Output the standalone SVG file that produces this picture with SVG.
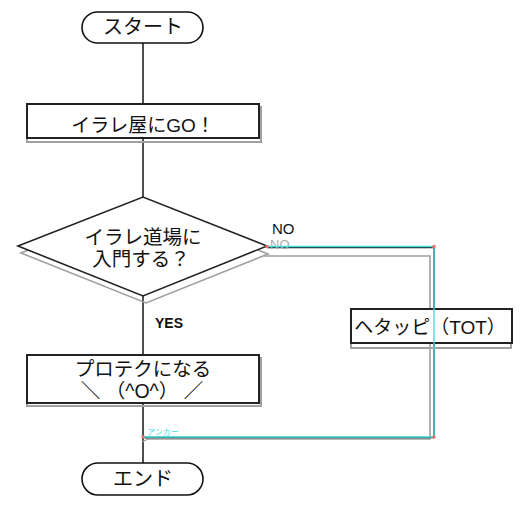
<svg xmlns="http://www.w3.org/2000/svg" width="525" height="510" viewBox="0 0 525 510">
<style>
.t{font-family:"Liberation Sans","Noto Sans CJK JP",sans-serif;font-size:20px;fill:#111;text-anchor:middle}
.lt{font-family:"Liberation Sans","Noto Sans CJK JP",sans-serif}
.box{fill:#fff;stroke:#222;stroke-width:2}
.sh{fill:none;stroke:#a0a0a0;stroke-width:2}
.term{fill:#fff;stroke:#111;stroke-width:1.6}
.ln{fill:none;stroke:#222;stroke-width:1.6}
.cy{fill:none;stroke:#3ee0e0;stroke-width:1.4}
.pt{fill:#f07070}
</style>
<defs>
<marker id="ah" markerWidth="8" markerHeight="8" refX="1" refY="4" orient="auto" markerUnits="userSpaceOnUse">
<path d="M7,1 L1,4 L7,7" fill="none" stroke="#a0a0a0" stroke-width="1.2"/>
</marker>
</defs>
<g id="connectors">
<line class="ln" x1="143" y1="43" x2="143" y2="104"/>
<line class="ln" x1="143" y1="138" x2="143" y2="197"/>
<line class="ln" x1="143" y1="296" x2="143" y2="355"/>
<line class="ln" x1="143" y1="403" x2="143" y2="463"/>
<polyline class="sh" points="264,256 430,256 430,439 148,439" marker-end="url(#ah)" style="stroke-width:1.6"/>
<polyline class="ln" points="267,247.5 434,247.5 434,437.5 143,437.5"/>
</g>
<g id="start">
<rect class="term" x="82" y="12" width="121" height="31" rx="15.5"/>
<text class="t" x="143" y="34">スタート</text>
</g>
<g id="box-go">
<rect class="sh" x="27" y="107" width="234" height="35"/>
<rect class="box" x="27" y="104" width="232" height="34"/>
<text class="t" x="143" y="132" style="font-size:19px">イラレ屋にGO！</text>
</g>
<g id="decision">
<polygon class="sh" points="21,253 145,204 268,254 146,303" style="stroke-width:1.6"/>
<polygon class="box" points="18,246 143,197 267,246 143,296" style="stroke-width:1.6"/>
<text class="t" x="143" y="244" style="font-size:19.5px">イラレ道場に</text>
<text class="t" x="141" y="266" style="font-size:19.5px">入門する？</text>
</g>
<g id="box-hetappi">
<rect class="sh" x="351" y="312" width="160" height="36"/>
<rect class="box" x="351" y="309" width="161" height="34"/>
<text class="t" x="430" y="334" style="font-size:19px">ヘタッピ（TOT）</text>
</g>
<g id="box-protech">
<rect class="sh" x="27" y="358" width="234" height="48"/>
<rect class="box" x="27" y="355" width="232" height="48"/>
<text class="t" x="143" y="376" style="font-size:19.5px">プロテクになる</text>
<text class="t" x="142" y="398" style="font-size:19.5px">＼ （^O^） ／</text>
</g>
<g id="end">
<rect class="term" x="82" y="463" width="121" height="32" rx="16"/>
<text class="t" x="143" y="486">エンド</text>
</g>
<g id="labels">
<text class="lt" x="155" y="328" style="font-size:14px;font-weight:bold;fill:#111">YES</text>
<text class="lt" x="270" y="249" style="font-size:13px;fill:#aaa">NO</text>
<text class="lt" x="272" y="234" style="font-size:15px;fill:#111">NO</text>
</g>
<g id="selection">
<polyline class="cy" points="267,246.5 434,246.5 434,437 143,437"/>
<text x="147" y="435" style="font-family:'Noto Sans CJK JP',sans-serif;font-size:8px;fill:#3ee0e0">アンカー</text>
<rect class="pt" x="265.5" y="245" width="3" height="3"/>
<rect class="pt" x="432.5" y="245" width="3" height="3"/>
<rect class="pt" x="432.5" y="435.5" width="3" height="3"/>
<rect class="pt" x="141.5" y="435.5" width="3" height="3"/>
</g>
</svg>
